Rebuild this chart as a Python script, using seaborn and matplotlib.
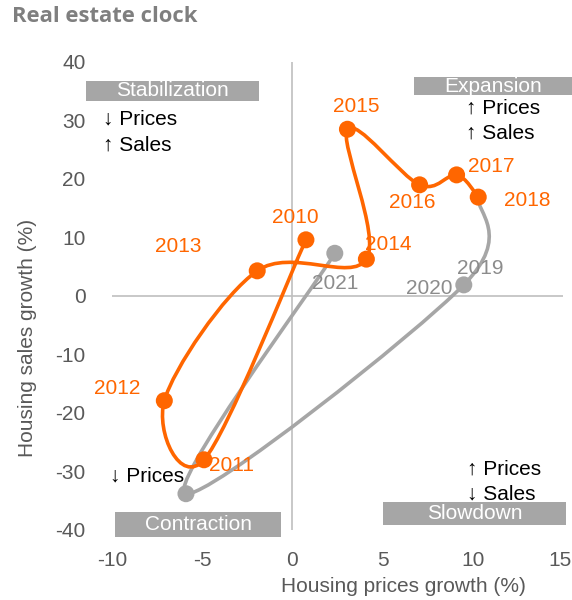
import numpy as np
import seaborn as sns
import matplotlib.pyplot as plt
from matplotlib.path import Path
from matplotlib.patches import PathPatch, Rectangle
from matplotlib.transforms import ScaledTranslation

# data
years = ["2010", "2011", "2012", "2013", "2014", "2015", "2016", "2017", "2018",
         "2019", "2020", "2021"]
prices = [0.75, -4.9, -7.1, -1.95, 4.1, 3.05, 7.05, 9.1, 10.3, 9.5, -5.9, 2.35]
sales = [9.6, -28.0, -17.9, 4.3, 6.3, 28.5, 19.0, 20.7, 16.9, 1.9, -33.8, 7.3]

# label offsets (data units) for the year tags
label_dx = [-0.6, 1.5, -2.6, -4.4, 1.2, 0.5, -0.4, 1.9, 2.7, 0.9, 13.5, 0.0]
label_dy = [3.9, -1.0, 2.0, 4.1, 2.5, 3.9, -3.1, 1.4, -0.5, 2.8, 35.0, -5.2]

ORANGE = "#ff6600"
GRAY = "#a6a6a6"
GRAY_TXT = "#8c8c8c"
TICK = "#595959"
FS = 15

sns.set_style("white")
plt.rcParams["font.family"] = ["Liberation Sans", "DejaVu Sans"]
plt.rcParams["axes.unicode_minus"] = False


def smooth_path(xs, ys):
    """Excel-like smoothed line: Catmull-Rom segments as cubic Beziers."""
    pts = np.column_stack([xs, ys])
    ext = np.vstack([pts[0], pts, pts[-1]])
    verts = [pts[0]]
    codes = [Path.MOVETO]
    for i in range(len(pts) - 1):
        p0, p1, p2, p3 = ext[i], ext[i + 1], ext[i + 2], ext[i + 3]
        verts += [p1 + (p2 - p0) / 6, p2 - (p3 - p1) / 6, p2]
        codes += [Path.CURVE4] * 3
    return Path(verts, codes)


fig = plt.figure(figsize=(5.72, 6), dpi=100)
ax = fig.add_axes([0.1958, 0.1167, 0.7885, 0.78])
ax.set_xlim(-10, 15)
ax.set_ylim(-40, 40)
for s in ax.spines.values():
    s.set_visible(False)

ax.axhline(0, color="#bfbfbf", lw=1.2, zorder=1)
ax.axvline(0, color="#bfbfbf", lw=1.2, zorder=1)

# gray series 2018-2021 (under), orange 2010-2018 (over)
ax.add_patch(PathPatch(smooth_path(prices[8:], sales[8:]), fc="none",
                       ec=GRAY, lw=2.6, zorder=2))
sns.scatterplot(x=prices[9:], y=sales[9:], color=GRAY, s=150,
                edgecolor="none", ax=ax, zorder=3)
ax.add_patch(PathPatch(smooth_path(prices[:9], sales[:9]), fc="none",
                       ec=ORANGE, lw=2.6, zorder=4))
sns.scatterplot(x=prices[:9], y=sales[:9], color=ORANGE, s=150,
                edgecolor="none", ax=ax, zorder=5)

for i, yr in enumerate(years):
    col = ORANGE if i < 9 else GRAY_TXT
    ax.text(prices[i] + label_dx[i], sales[i] + label_dy[i], yr, color=col,
            fontsize=FS, ha="center", va="center", zorder=6)

ax.set_xticks([-10, -5, 0, 5, 10, 15])
ax.set_yticks(range(-40, 41, 10))
ax.tick_params(axis="both", colors=TICK, labelsize=FS, length=0)
ax.tick_params(axis="x", pad=15)
ax.tick_params(axis="y", pad=19)
ax.set_xlabel("")
ax.set_ylabel("")
# keep the last x tick label inside the canvas
last = ax.get_xticklabels()[-1]
last.set_transform(last.get_transform() + ScaledTranslation(-3 / 100, 0, fig.dpi_scale_trans))

fig.text(403 / 572, 1 - 587 / 600, "Housing prices growth (%)", color=TICK,
         fontsize=FS, ha="center", va="center")
fig.text(28 / 572, 1 - 338 / 600, "Housing sales growth (%)", color=TICK,
         fontsize=FS, ha="center", va="center", rotation=90)
fig.text(12 / 572, 1 - 16 / 600, "Real estate clock", color="#7f7f7f",
         fontsize=15.8, fontweight="bold", family="Open Sans",
         ha="left", va="center")

# quadrant boxes (pixel boxes in figure fractions)
boxes = [("Stabilization", 86, 81, 259, 101),
         ("Expansion", 414, 77, 572, 95),
         ("Contraction", 115, 512, 281, 537),
         ("Slowdown", 383, 502, 566, 525)]
for name, x0, y0, x1, y1 in boxes:
    fig.patches.append(Rectangle((x0 / 572, 1 - y1 / 600), (x1 - x0) / 572,
                                 (y1 - y0) / 600, transform=fig.transFigure,
                                 fc=GRAY, ec="none", zorder=1))
    fig.text((x0 + x1) / 2 / 572, 1 - (y0 + y1) / 2 / 600, name,
             color="white", fontsize=FS, ha="center", va="center")

notes = [(103, 119, "\u2193 Prices"), (103, 145, "\u2191 Sales"),
         (466, 108, "\u2191 Prices"), (466, 133, "\u2191 Sales"),
         (467, 469, "\u2191 Prices"), (467, 494, "\u2193 Sales"),
         (110, 476, "\u2193 Prices")]
for px, py, t in notes:
    fig.text(px / 572, 1 - py / 600, t, color="black", fontsize=FS,
             ha="left", va="center", zorder=7)

fig.savefig("out.png", dpi=100)
